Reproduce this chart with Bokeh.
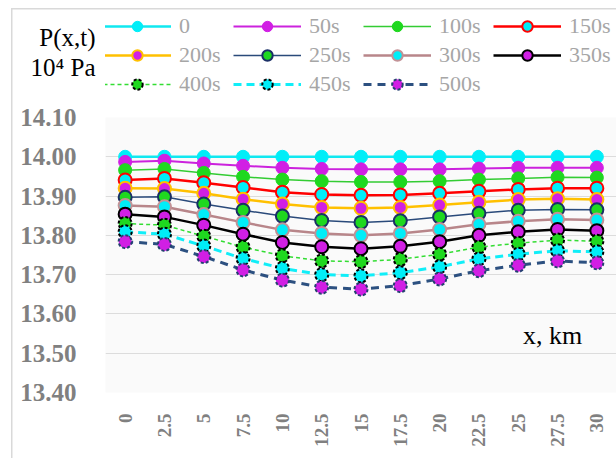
import math

from bokeh.plotting import figure
from bokeh.layouts import column
from bokeh.models import (FactorRange, Range1d, FixedTicker, NumeralTickFormatter,
                          Legend, LegendItem, Label)
from bokeh.embed import file_html
from bokeh.resources import INLINE

# distance along the line, km
x_km = ["0", "2.5", "5", "7.5", "10", "12.5", "15", "17.5", "20", "22.5", "25", "27.5", "30"]

# pressure P(x,t), 10^4 Pa, at successive times
p_0 = [14.000] * 13
p_50 = [13.987, 13.990, 13.983, 13.977, 13.972, 13.969, 13.968, 13.968, 13.968, 13.970, 13.972, 13.972, 13.972]
p_100 = [13.966, 13.969, 13.959, 13.949, 13.942, 13.938, 13.936, 13.936, 13.938, 13.942, 13.945, 13.948, 13.947]
p_150 = [13.941, 13.945, 13.934, 13.922, 13.910, 13.904, 13.902, 13.903, 13.907, 13.912, 13.917, 13.920, 13.920]
p_200 = [13.920, 13.919, 13.907, 13.892, 13.880, 13.871, 13.869, 13.871, 13.877, 13.884, 13.891, 13.893, 13.891]
p_250 = [13.897, 13.898, 13.880, 13.864, 13.849, 13.838, 13.833, 13.837, 13.847, 13.856, 13.864, 13.866, 13.865]
p_300 = [13.876, 13.873, 13.853, 13.833, 13.814, 13.805, 13.800, 13.805, 13.815, 13.828, 13.836, 13.841, 13.839]
p_350 = [13.854, 13.847, 13.826, 13.803, 13.782, 13.771, 13.766, 13.772, 13.784, 13.800, 13.809, 13.815, 13.812]
p_400 = [13.830, 13.826, 13.798, 13.770, 13.748, 13.735, 13.733, 13.739, 13.752, 13.770, 13.780, 13.788, 13.785]
p_450 = [13.809, 13.803, 13.773, 13.741, 13.716, 13.700, 13.697, 13.705, 13.720, 13.740, 13.752, 13.761, 13.758]
p_500 = [13.784, 13.777, 13.746, 13.712, 13.686, 13.668, 13.663, 13.672, 13.689, 13.710, 13.724, 13.735, 13.730]

time_labels = ["0", "50s", "100s", "150s", "200s", "250s", "300s", "350s", "400s", "450s", "500s"]
y_ticks = [13.40, 13.50, 13.60, 13.70, 13.80, 13.90, 14.00, 14.10]
caption_lines = ["P(x,t)", "10\u2074 Pa"]
axis_caption = "x, km"

CYAN = "#00eef8"
MAGENTA = "#d11fe4"
GREEN = "#1fd81f"

# (values, line colour, line width, line dash, marker fill, marker outline, outline width, outline dash)
styles = [
    (p_0,   "#10e8f0", 2.5, "solid", CYAN,    CYAN,      1.0, "solid"),
    (p_50,  "#cc22dd", 2.0, "solid", MAGENTA, MAGENTA,   1.0, "solid"),
    (p_100, "#33cc33", 1.5, "solid", GREEN,   GREEN,     1.0, "solid"),
    (p_150, "#ff0000", 2.5, "solid", CYAN,    "#ff0000", 2.0, "solid"),
    (p_200, "#ffc000", 2.5, "solid", MAGENTA, "#ffc000", 2.0, "solid"),
    (p_250, "#2a4a7a", 1.5, "solid", GREEN,   "#1a2f66", 2.0, "solid"),
    (p_300, "#b8868a", 2.5, "solid", CYAN,    "#c29296", 2.0, "solid"),
    (p_350, "#000000", 2.5, "solid", MAGENTA, "#000000", 2.0, "solid"),
    (p_400, "#33dd33", 1.5, "4 3",   GREEN,   "#000000", 2.0, "3 2"),
    (p_450, "#10eef8", 3.0, "8 5",   CYAN,    "#000000", 2.0, "3 2"),
    (p_500, "#2c5080", 3.0, "8 6",   MAGENTA, "#244070", 2.0, "3 2"),
]

HEADER_H = 100
LEFT = 105

# ---- header strip: caption (as axis labels) and legend --------------------
# the header frame lines up with the main frame (x from LEFT to the right edge)
head = figure(width=616, height=HEADER_H,
              x_range=Range1d(0, 616 - LEFT), y_range=Range1d(HEADER_H, 0),
              x_axis_location=None, y_axis_location="left",
              output_backend="svg", toolbar_location=None,
              min_border_left=LEFT, min_border_right=0,
              min_border_top=0, min_border_bottom=0)
head.outline_line_color = None
head.background_fill_color = None
head.border_fill_color = None
head.xgrid.visible = False
head.ygrid.visible = False

cap_axis = head.yaxis[0]
cap_axis.ticker = FixedTicker(ticks=[37, 67])
cap_axis.major_label_overrides = {37: caption_lines[0], 67: caption_lines[1]}
cap_axis.axis_line_color = None
cap_axis.major_tick_line_color = None
cap_axis.minor_tick_line_color = None
cap_axis.major_tick_out = 0
cap_axis.major_label_standoff = 10
cap_axis.major_label_text_font = "Liberation Serif"
cap_axis.major_label_text_font_size = "25px"
cap_axis.major_label_text_color = "black"

items = []
nan = float("nan")
for label, (vals, lc, lw, ld, fc, oc, ow, od) in zip(time_labels, styles):
    # legend samples share the styles of the plotted series (nothing drawn in the strip)
    r_line = head.line(x=[nan], y=[nan], line_color=lc, line_width=lw, line_dash=ld)
    r_pts = head.scatter(x=[nan], y=[nan], size=13, marker="circle",
                         fill_color=fc, line_color=oc, line_width=ow, line_dash=od)
    items.append(LegendItem(label=label, renderers=[r_line, r_pts]))

legend = Legend(items=items, location=(-2, 3), orientation="horizontal", ncols=4,
                glyph_width=68, glyph_height=26, label_height=26,
                label_standoff=8, label_width=51,
                spacing=3, padding=0, margin=0,
                border_line_color=None, background_fill_alpha=0,
                label_text_font="Liberation Serif", label_text_font_size="22px",
                label_text_color="#a6a6a6")
head.add_layout(legend, "center")

# ---- main plot ------------------------------------------------------------
p = figure(width=616, height=458 - HEADER_H,
           x_range=FactorRange(factors=x_km, range_padding=0),
           y_range=Range1d(13.40, 14.10),
           output_backend="svg", toolbar_location=None,
           min_border_left=LEFT, min_border_right=0,
           min_border_top=117 - HEADER_H, min_border_bottom=66)

p.background_fill_color = "#fafafa"
p.border_fill_color = None
p.outline_line_color = None

for vals, lc, lw, ld, fc, oc, ow, od in styles:
    p.line(x=x_km, y=vals, line_color=lc, line_width=lw, line_dash=ld)
    p.scatter(x=x_km, y=vals, size=13, marker="circle",
              fill_color=fc, line_color=oc, line_width=ow, line_dash=od)

# y axis
ya = p.yaxis[0]
ya.ticker = FixedTicker(ticks=y_ticks)
ya.formatter = NumeralTickFormatter(format="0.00")
ya.axis_line_color = None
ya.major_tick_line_color = None
ya.minor_tick_line_color = None
ya.major_tick_out = 0
ya.major_label_standoff = 29
ya.major_label_text_font = "Liberation Serif"
ya.major_label_text_font_style = "bold"
ya.major_label_text_font_size = "25px"
ya.major_label_text_color = "#808080"

# x axis: vertical labels, every second one set a little lower
xa = p.xaxis[0]
xa.axis_line_color = None
xa.major_tick_line_color = None
xa.minor_tick_line_color = None
xa.major_tick_out = 0
xa.major_label_orientation = math.pi / 2
xa.major_label_standoff = 21
xa.major_label_text_font = "Liberation Serif"
xa.major_label_text_font_style = "bold"
xa.major_label_text_font_size = "19px"
xa.major_label_text_color = "#808080"
xa.major_label_overrides = {f: f + "\u2002\u2009" for i, f in enumerate(x_km) if i % 2 == 1}

p.xgrid.visible = False
p.ygrid.ticker = FixedTicker(ticks=y_ticks)
p.ygrid.grid_line_color = "#dcdcdc"
p.ygrid.grid_line_width = 1

p.add_layout(Label(x=10.62, y=13.545, text=axis_caption, text_font="Liberation Serif",
                   text_font_size="26px", text_color="black",
                   text_align="left", text_baseline="middle"))

# light chart-area border along the left and top edges
page = column(head, p, spacing=0,
              styles={"background":
                      "linear-gradient(#d9d9d9, #d9d9d9) 11px 8px / 1.5px 100% no-repeat, "
                      "linear-gradient(#d9d9d9, #d9d9d9) 11px 8px / 100% 1.5px no-repeat, "
                      "white"})

open("out.html", "w").write(file_html(page, INLINE))
